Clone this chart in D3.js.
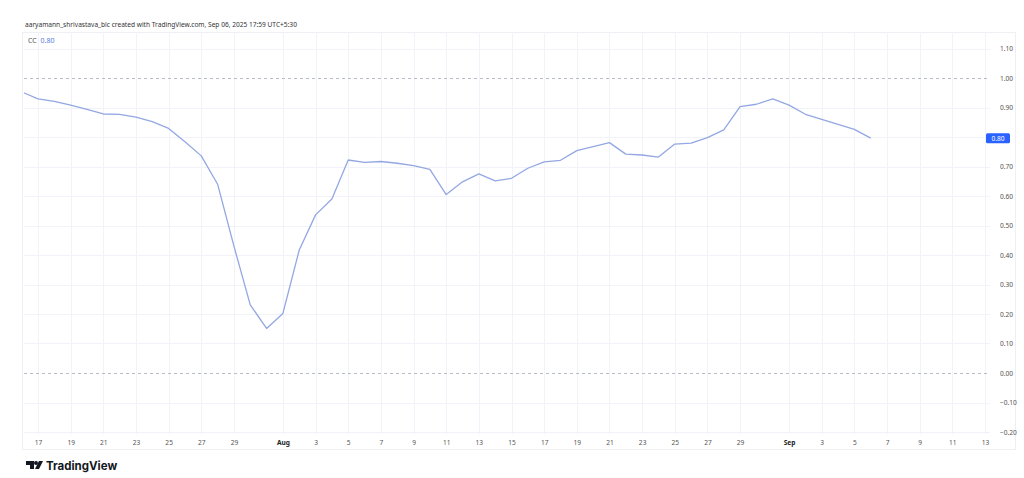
<!DOCTYPE html>
<html>
<head>
<meta charset="utf-8">
<script src="https://cdn.jsdelivr.net/npm/d3@7"></script>
<style>
  body { margin: 0; background: #fff; }
  text { font-family: "Noto Sans", "DejaVu Sans", sans-serif; }
</style>
</head>
<body>
<script>
const width = 1024;
const height = 478;

// daily CC values, Jul 16 .. Sep 6 2025
const startDay = '2025-07-16';
const endDay = '2025-09-07';
const ccValues = [
  0.953, 0.929, 0.921, 0.908, 0.894, 0.878, 0.877, 0.867, 0.852, 0.829,
  0.784, 0.736, 0.640, 0.430, 0.231, 0.151,
  0.202, 0.417, 0.536, 0.590, 0.722, 0.714, 0.717, 0.711, 0.703, 0.690,
  0.605, 0.648, 0.675, 0.651, 0.660, 0.694, 0.716, 0.721, 0.754, 0.767,
  0.781, 0.742, 0.739, 0.732, 0.776, 0.779, 0.798, 0.824, 0.903, 0.911,
  0.929,
  0.908, 0.877, 0.860, 0.843, 0.826, 0.796
];

const xTickDays = [
  '2025-07-17', '2025-07-19', '2025-07-21', '2025-07-23', '2025-07-25', '2025-07-27', '2025-07-29',
  '2025-08-01', '2025-08-03', '2025-08-05', '2025-08-07', '2025-08-09', '2025-08-11', '2025-08-13',
  '2025-08-15', '2025-08-17', '2025-08-19', '2025-08-21', '2025-08-23', '2025-08-25', '2025-08-27',
  '2025-08-29', '2025-09-01', '2025-09-03', '2025-09-05', '2025-09-07', '2025-09-09', '2025-09-11',
  '2025-09-13'
];
const yTicks = [-0.2, -0.1, 0, 0.1, 0.2, 0.3, 0.4, 0.5, 0.6, 0.7, 0.8, 0.9, 1.0, 1.1];
const dashedLevels = [0, 1.0];

const lineColor = '#93a7e2';
const tvBlue = '#2962ff';

const dates = d3.utcDay.range(new Date(startDay), new Date(endDay));
const series = dates.map((d, i) => ({ date: d, value: ccValues[i] }));
const lastVal = ccValues[ccValues.length - 1];

const plot = { left: 24, right: 990, top: 32, bottom: 434 };

const x = d3.scaleUtc()
  .domain([new Date('2025-07-17'), new Date('2025-09-13')])
  .range([38, 985]);

const y = d3.scaleLinear()
  .domain([-0.2, 1.1])
  .range([432, 48.5]);

const svg = d3.select('body').append('svg')
  .attr('width', width)
  .attr('height', height);

// header
svg.append('text')
  .attr('x', 25)
  .attr('y', 27)
  .style('font-size', '6.6px')
  .style('fill', '#333')
  .text('aaryamann_shrivastava_blc created with TradingView.com, Sep 06, 2025 17:59 UTC+5:30');

// panel frame
svg.append('rect')
  .attr('x', 22.5).attr('y', 32.5)
  .attr('width', 993).attr('height', 417)
  .style('fill', 'none')
  .style('stroke', '#eef0f4');

const grid = svg.append('g').style('stroke', '#f1f3f8').style('stroke-width', 1);

grid.selectAll('line.h')
  .data(yTicks.filter(v => !dashedLevels.includes(v)))
  .enter().append('line')
    .attr('x1', plot.left).attr('x2', plot.right)
    .attr('y1', d => Math.round(y(d)) + 0.5)
    .attr('y2', d => Math.round(y(d)) + 0.5);

grid.selectAll('line.v')
  .data(xTickDays.map(d => new Date(d)))
  .enter().append('line')
    .attr('x1', d => Math.round(x(d)) + 0.5)
    .attr('x2', d => Math.round(x(d)) + 0.5)
    .attr('y1', plot.top).attr('y2', plot.bottom);

svg.append('g')
  .selectAll('line')
  .data(dashedLevels)
  .enter().append('line')
    .attr('x1', plot.left).attr('x2', plot.right)
    .attr('y1', d => Math.round(y(d)) + 0.5)
    .attr('y2', d => Math.round(y(d)) + 0.5)
    .style('stroke', '#b8bcc6')
    .style('stroke-dasharray', '3,3');

// clip + line
svg.append('clipPath').attr('id', 'plotClip')
  .append('rect')
    .attr('x', plot.left).attr('y', plot.top)
    .attr('width', plot.right - plot.left).attr('height', plot.bottom - plot.top);

const line = d3.line()
  .x(d => x(d.date))
  .y(d => y(d.value));

svg.append('path')
  .datum(series)
  .attr('clip-path', 'url(#plotClip)')
  .attr('d', line)
  .style('fill', 'none')
  .style('stroke', lineColor)
  .style('stroke-width', 1.3)
  .style('stroke-linejoin', 'round');

// legend
const legend = svg.append('text')
  .attr('x', 28)
  .attr('y', 43)
  .style('font-size', '7px');
legend.append('tspan').style('fill', '#555').text('CC ');
legend.append('tspan').style('fill', '#5b7be0').attr('dx', 2).text(d3.format('.2f')(lastVal));

// right price axis (tick hidden where the last-value badge sits)
const yAxis = svg.append('g')
  .attr('transform', `translate(${plot.right},0)`)
  .call(d3.axisRight(y)
    .tickValues(yTicks.filter(v => Math.abs(y(v) - y(lastVal)) > 8))
    .tickFormat(d3.format('.2f')).tickSize(0).tickPadding(10));
yAxis.select('.domain').remove();
yAxis.selectAll('text')
  .style('font-size', '6.6px')
  .style('fill', '#555')
  .style('font-family', '"Noto Sans", "DejaVu Sans", sans-serif');

// last value badge
svg.append('rect')
  .attr('x', 986).attr('y', y(lastVal) - 5)
  .attr('width', 24).attr('height', 10)
  .attr('rx', 1.5)
  .style('fill', tvBlue);
svg.append('text')
  .attr('x', 998).attr('y', y(lastVal) + 2.4)
  .attr('text-anchor', 'middle')
  .style('font-size', '6.6px')
  .style('fill', '#fff')
  .text(d3.format('.2f')(lastVal));

// time axis
const xAxis = svg.append('g')
  .attr('transform', `translate(0,${plot.bottom})`)
  .call(d3.axisBottom(x)
    .tickValues(xTickDays.map(d => new Date(d)))
    .tickFormat(d => d.getUTCDate() === 1 ? d3.utcFormat('%b')(d) : d3.utcFormat('%-d')(d))
    .tickSize(0).tickPadding(6));
xAxis.select('.domain').remove();
xAxis.selectAll('text')
  .style('font-size', '6.6px')
  .style('fill', d => d.getUTCDate() === 1 ? '#222' : '#555')
  .style('font-weight', d => d.getUTCDate() === 1 ? 'bold' : 'normal')
  .style('font-family', '"Noto Sans", "DejaVu Sans", sans-serif');

// TradingView logo
const logo = svg.append('g').attr('transform', 'translate(26,461)');
logo.append('path')
  .attr('d', 'M0,0 H8 V8 H4 V4 H0 Z')
  .style('fill', '#131722');
logo.append('circle').attr('cx', 10).attr('cy', 2).attr('r', 2).style('fill', '#131722');
logo.append('path')
  .attr('d', 'M13,0 H17 L13,8 H9 Z')
  .style('fill', '#131722');
svg.append('text')
  .attr('x', 46)
  .attr('y', 469.5)
  .style('font-size', '11.5px')
  .style('font-weight', 'bold')
  .style('fill', '#131722')
  .style('font-family', 'Inter, "Noto Sans", sans-serif')
  .text('TradingView');
</script>
</body>
</html>
